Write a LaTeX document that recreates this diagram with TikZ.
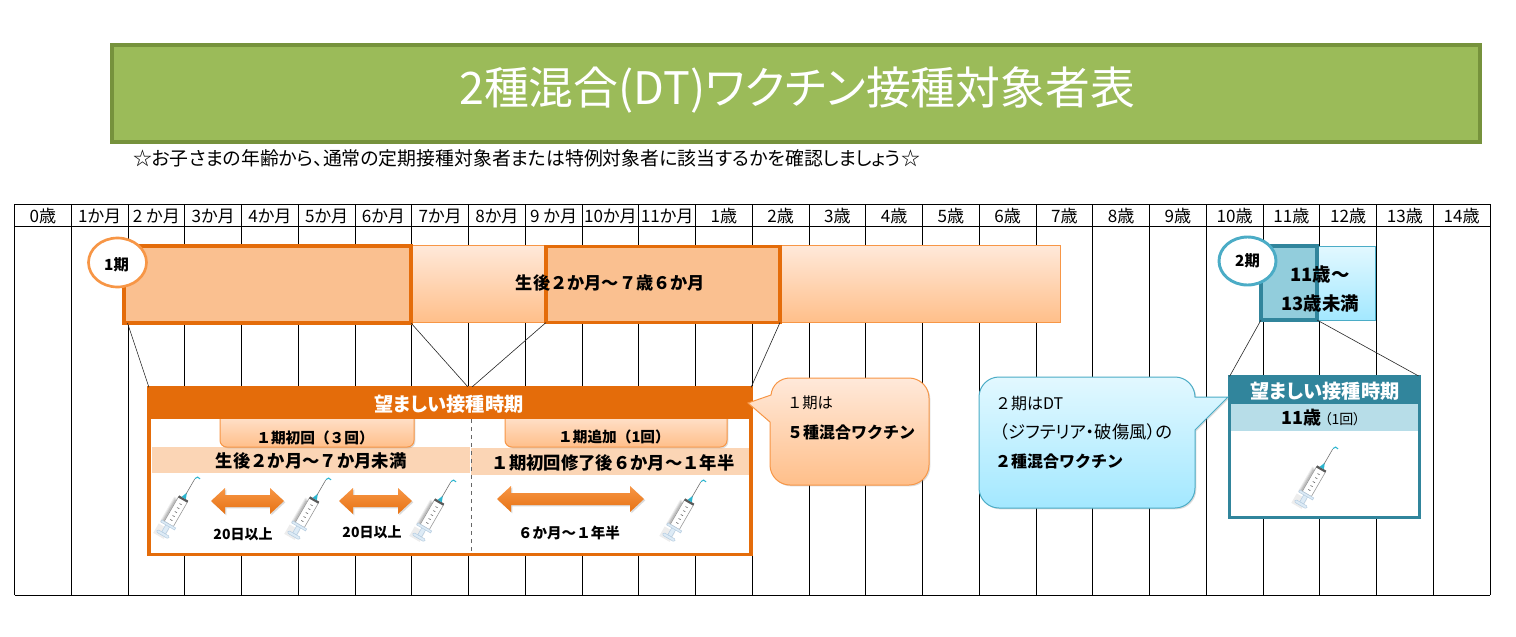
\documentclass[tikz,border=0pt]{standalone}
\usepackage{fontspec}
\setmainfont{Noto Sans CJK JP}[RawFeature={+palt}]
\newfontfamily\fullwidth{Noto Sans CJK JP}
\usetikzlibrary{shadows,calc,shapes.geometric}

\definecolor{titlegreen}{HTML}{9BBB59}
\definecolor{titleedge}{HTML}{76923C}
\definecolor{orangedeep}{HTML}{E46C0A}
\definecolor{orangeline}{HTML}{F79646}
\definecolor{orangefill}{HTML}{FAC090}
\definecolor{orangeband}{HTML}{FBD5B5}
\definecolor{orangetop}{HTML}{FFE9DA}
\definecolor{orangelow}{HTML}{FFBF8A}
\definecolor{tealdeep}{HTML}{31859C}
\definecolor{tealline}{HTML}{4BACC6}
\definecolor{tealfill}{HTML}{92CDDC}
\definecolor{tealband}{HTML}{B7DDE8}
\definecolor{aquatop}{HTML}{E2F8FF}
\definecolor{aqualow}{HTML}{A3E8FF}
\definecolor{syringepale}{HTML}{DDEBF6}
\definecolor{syringeedge}{HTML}{B4CBDF}
\definecolor{syringetip}{HTML}{2BB5CF}

\tikzset{
  box/.style n args={2}{rectangle,inner sep=0pt,outer sep=0pt,
    minimum width=#1*0.75pt,minimum height=#2*0.75pt},
  softshadow/.style={drop shadow={opacity=.28,shadow xshift=1pt,shadow yshift=-1pt}},
  plain/.style={inner sep=0pt,outer sep=0pt,font=\fontsize{#1}{#1}\selectfont,text=black},
  strong/.style={inner sep=0pt,outer sep=0pt,font=\fontsize{#1}{#1}\selectfont\bfseries,text=black},
  plainwide/.style={inner sep=0pt,outer sep=0pt,font=\fullwidth\fontsize{#1}{#1}\selectfont,text=black},
  strongwide/.style={inner sep=0pt,outer sep=0pt,font=\fullwidth\fontsize{#1}{#1}\selectfont\bfseries,text=black},
  leader/.style={draw=black!85,line width=0.45pt},
  gridline/.style={draw=black,line width=0.75pt},
  syringe/.pic={
    % soft shadow along the barrel's left side
    \fill[black,opacity=.07] (-9,-7) rectangle (-2,18);
    \fill[black,opacity=.09] (-8,-6) rectangle (-3,17);
    \fill[black,opacity=.11] (-7,-5) rectangle (-4,16);
    \fill[black,opacity=.07] (-9,20) rectangle (3,29.5);
    % plunger and thumb rest
    \filldraw[fill=syringepale,draw=syringeedge,line width=0.35pt] (-2.2,16) rectangle (2.2,25);
    \filldraw[fill=syringepale,draw=syringeedge,line width=0.35pt,rounded corners=1pt] (-7,25) rectangle (7,27.5);
    % barrel
    \filldraw[fill=white,draw=black!40,line width=0.45pt] (-5.2,-9) rectangle (5.2,16);
    \filldraw[fill=syringepale,draw=syringeedge,line width=0.35pt] (-8,16) rectangle (8,18);
    \fill[black!65] (-5.2,-10) rectangle (5.2,-8);
    \foreach \t in {-4,0,4,8,12} \draw[black!60,line width=0.45pt] (-1,\t) -- (1.5,\t);
    % hub, needle and the drop at its tip
    \fill[syringetip] (-2.4,-10) -- (0,-15.5) -- (2.4,-10) -- cycle;
    \draw[black!55,line width=0.45pt] (0,-14) -- (0,-29);
    \draw[syringetip,line width=0.8pt] (0,-29.5) .. controls (0.5,-32) and (2,-32.5) .. (4.5,-31.5);
  }
}

% Horizontal double-headed arrow: left end, right end, centre height
\newcommand{\DoubleHead}[3]{%
  \shade[top color=orangeline,bottom color=orangedeep!85!orangeline,softshadow]
    (#1,#3) -- (#1+14,#3-13) -- (#1+14,#3-6) -- (#2-14,#3-6) -- (#2-14,#3-13)
    -- (#2,#3) -- (#2-14,#3+13) -- (#2-14,#3+6) -- (#1+14,#3+6) -- (#1+14,#3+13) -- cycle;
}

\begin{document}
\begin{tikzpicture}[x=0.75pt,y=-0.75pt]
\useasboundingbox (0,0) rectangle (1516,636);
\fill[white] (0,0) rectangle (1516,636);

% Heading
\node[box={1368}{97},fill=titlegreen,draw=titleedge,line width=2.4pt] (title) at (796,93.5) {};
\node[plain=33.6,text=white] (titletext) at (797,90) {2種混合(DT)ワクチン接種対象者表};
\node[plain=14.15,anchor=west] (note) at (133,158) {☆お子さまの年齢から、通常の定期接種対象者または特例対象者に該当するかを確認しましょう☆};

% Age table
\draw[gridline] (14.5,204) -- (1490,204);
\draw[gridline] (14.5,226) -- (1490,226);
\draw[gridline] (14.5,595) -- (1490,595);
\foreach \c in {0,...,26} \draw[gridline] ({14.5+56.75*\c},204) -- ({14.5+56.75*\c},595);
\foreach \lab [count=\c from 0] in {0歳,1か月,2 か月,3か月,4か月,5か月,6か月,7か月,8か月,9 か月,10か月,11か月,1歳,2歳,3歳,4歳,5歳,6歳,7歳,8歳,9歳,10歳,11歳,12歳,13歳,14歳}
  \node[plain=12.8] (col\c) at ({14.5+56.75*(\c+0.5)},216) {\lab};

% First-term range
\node[box={937}{77},top color=orangetop,bottom color=orangelow,draw=orangeline,line width=0.75pt,softshadow] (rangeA) at (591.5,283.5) {};
\node[box={287}{77},fill=orangefill,draw=orangedeep,line width=2.7pt] (earlyA) at (267.5,284.5) {};
\node[box={234}{76},fill=orangefill,draw=orangedeep,line width=2.7pt] (earlyB) at (663,284.5) {};
\node[strongwide=12.9] (rangeAtext) at (610.5,283) {生後２か月～７歳６か月};
\node[ellipse,inner sep=0pt,outer sep=0pt,minimum width=58*0.75pt,minimum height=49*0.75pt,fill=white,draw=orangeline,line width=2pt] (termA) at (117.5,262.5) {};
\node[strong=11.5] (termAtext) at (116.5,265) {1期};

% Second-term range
\node[box={113}{74},top color=aquatop,bottom color=aqualow,draw=tealline,line width=0.75pt] (rangeB) at (1318.5,283) {};
\node[box={56}{74},fill=tealfill,draw=tealdeep,line width=2.7pt] (earlyC) at (1289,283) {};
\node[strong=13.8] (rangeBtop) at (1320,275) {11歳～};
\node[strong=13.8] (rangeBlow) at (1320,304) {13歳未満};
\node[ellipse,inner sep=0pt,outer sep=0pt,minimum width=57*0.75pt,minimum height=48*0.75pt,fill=white,draw=tealline,line width=2.2pt] (termB) at (1247.5,261) {};
\node[strong=11.5] (termBtext) at (1247.5,261) {2期};

% First-term detail panel
\node[box={602}{167},fill=white,draw=orangedeep,line width=2.7pt] (panelA) at (450,471) {};
\coordinate (leadA) at (127.5,323);
\coordinate (meetL) at (468,387);
\coordinate (meetR) at (472,387);
\draw[leader] (leadA) -- (panelA.north west);
\draw[leader] (earlyA.south east) -- (meetL);
\draw[leader] (earlyB.south west) -- (meetR);
\draw[leader] (earlyB.south east) -- (panelA.north east);

\node[box={318}{26},fill=orangeband] (bandL) at (311,460) {};
\node[box={278}{27},fill=orangeband] (bandR) at (610,461.5) {};
\node[box={194}{38},rounded corners=5pt,top color=orangetop,bottom color=orangelow,draw=orangeline,line width=0.75pt,softshadow] (tabL) at (317,428) {};
\node[box={222}{38},rounded corners=5pt,top color=orangetop,bottom color=orangelow,draw=orangeline,line width=0.75pt,softshadow] (tabR) at (616,428) {};
\node[box={602}{32},fill=orangedeep] (headA) at (450,403) {};
\node[strong=14.4,text=white] (headAtext) at (449,404) {望ましい接種時期};
\coordinate (splitT) at (471.5,419);
\coordinate (splitB) at (471.5,553);
\draw[black!60,dashed,line width=0.6pt] (splitT) -- (splitB);
\node[strongwide=11] (tabLtext) at (315,438) {１期初回（３回）};
\node[strongwide=11] (tabRtext) at (614,437) {１期追加（1回）};
\node[strongwide=13] (bandLtext) at (311,461) {生後２か月～７か月未満};
\node[strongwide=13] (bandRtext) at (613,463) {１期初回修了後６か月～１年半};

\DoubleHead{211}{284}{501}
\DoubleHead{339}{412}{501}
\DoubleHead{497}{644}{499}
\node[strong=10.5] (gapA) at (243,534) {20日以上};
\node[strong=10.5] (gapB) at (372,532) {20日以上};
\node[strongwide=10.9] (gapC) at (569,533) {６か月～１年半};

\pic[rotate=-30,yscale=1.15] at (178,508) {syringe};
\pic[rotate=-30,yscale=1.15] at (309,509) {syringe};
\pic[rotate=-30,yscale=1.15] at (434,511) {syringe};
\pic[rotate=-30,yscale=1.15] at (684,511) {syringe};

% Second-term detail panel
\node[box={190}{141},fill=white,draw=tealdeep,line width=2.7pt] (panelB) at (1324.5,447) {};
\draw[leader] (earlyC.south west) -- (panelB.north west);
\draw[leader] (earlyC.south east) -- (panelB.north east);
\node[box={190}{28},fill=tealdeep] (headB) at (1324.5,390) {};
\node[box={187}{27},fill=tealband] (bandB) at (1324.5,417.5) {};
\node[strong=14.4,text=white] (headBtext) at (1325,391) {望ましい接種時期};
\node[strong=13.5] (bandBtext) at (1321,418) {11歳\,{\mdseries\fontsize{10.5}{10.5}\selectfont（1回）}};
\pic[rotate=-30,yscale=1.15] at (1316,478) {syringe};

% Speech balloons
\path[draw=orangeline,line width=0.75pt,top color=orangetop,bottom color=orangelow,softshadow]
  (790,378) -- (909,378) .. controls (920,378) and (929,387) .. (929,398)
  -- (929,465) .. controls (929,476) and (920,485) .. (909,485)
  -- (790,485) .. controls (779,485) and (770,476) .. (770,465)
  -- (770,422) -- (748,403) -- (771,395) .. controls (772,385) and (780,378) .. (790,378) -- cycle;
\node[plainwide=11.5,anchor=west] (balloonAone) at (787,403) {１期は};
\node[strongwide=12,anchor=west] (balloonAtwo) at (787,432) {５種混合ワクチン};

\path[draw=tealline,line width=0.75pt,top color=aquatop,bottom color=aqualow,softshadow]
  (999,377) -- (1175,377) .. controls (1186,377) and (1195,386) .. (1195,397)
  -- (1228,397) -- (1195,430) -- (1195,488) .. controls (1195,499) and (1186,508) .. (1175,508)
  -- (999,508) .. controls (988,508) and (979,499) .. (979,488)
  -- (979,397) .. controls (979,386) and (988,377) .. (999,377) -- cycle;
\node[plainwide=12,anchor=west] (balloonBone) at (995,404) {２期はDT};
\node[plain=13,anchor=west] (balloonBtwo) at (1000,432) {（ジフテリア・破傷風）の};
\node[strongwide=12,anchor=west] (balloonBthree) at (995,461) {２種混合ワクチン};
\end{tikzpicture}
\end{document}
